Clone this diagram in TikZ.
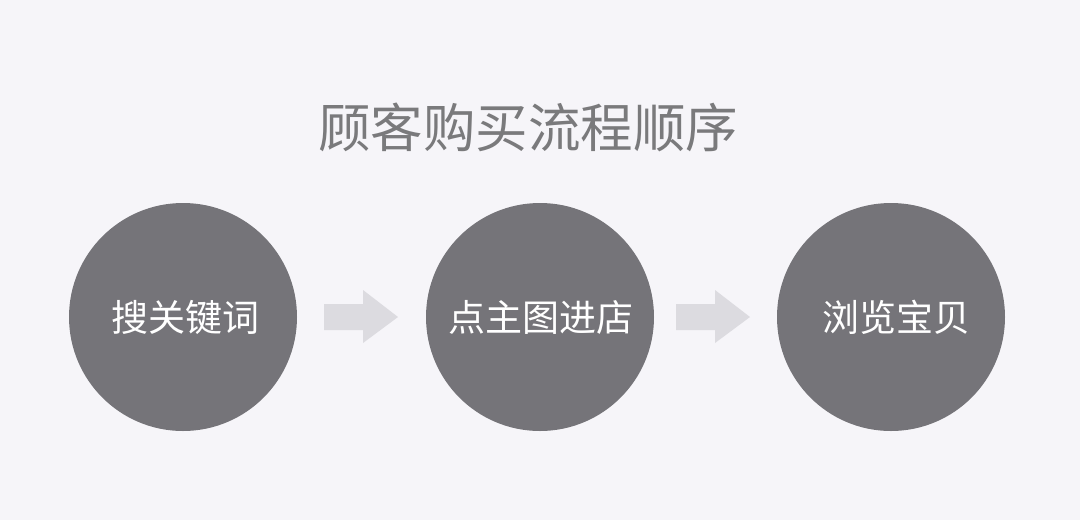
\documentclass[tikz,border=0pt]{standalone}
\usepackage{fontspec}
\newfontfamily\cjk{Noto Sans CJK SC}
\definecolor{bggray}{HTML}{F6F5F9}
\definecolor{circgray}{HTML}{757479}
\definecolor{titlegray}{HTML}{7A7A7C}
\definecolor{arrgray}{HTML}{DCDBE0}

\begin{document}
\begin{tikzpicture}[x=1pt, y=-1pt,
  stepcircle/.style={circle, fill=circgray, minimum size=228pt, inner sep=0pt},
  steptext/.style={text=white, font=\cjk\fontsize{37}{40}\selectfont},
  blockarrow/.style={fill=arrgray}]

\fill [bggray] (0,0) rectangle (1080,520);
\useasboundingbox (0,0) rectangle (1080,520);

\node (title) at (528,127) [text=titlegray, font=\cjk\fontsize{52.5}{56}\selectfont] {顾客购买流程顺序};

\node (search) [stepcircle] at (183,317) {};
\node (enter)  [stepcircle] at (540,317) {};
\node (browse) [stepcircle] at (891,317) {};

\node (searchtext) [steptext] at (185,317) {搜关键词};
\node (entertext)  [steptext] at (541,317) {点主图进店};
\node (browsetext) [steptext] at (896,317) {浏览宝贝};

% arrows between steps
\fill [blockarrow] (324,304) -- (363,304) -- (363,290) -- (398,317) -- (363,343) -- (363,330) -- (324,330) -- cycle;
\fill [blockarrow] (676,304) -- (715,304) -- (715,290) -- (750,317) -- (715,343) -- (715,330) -- (676,330) -- cycle;

\end{tikzpicture}
\end{document}
